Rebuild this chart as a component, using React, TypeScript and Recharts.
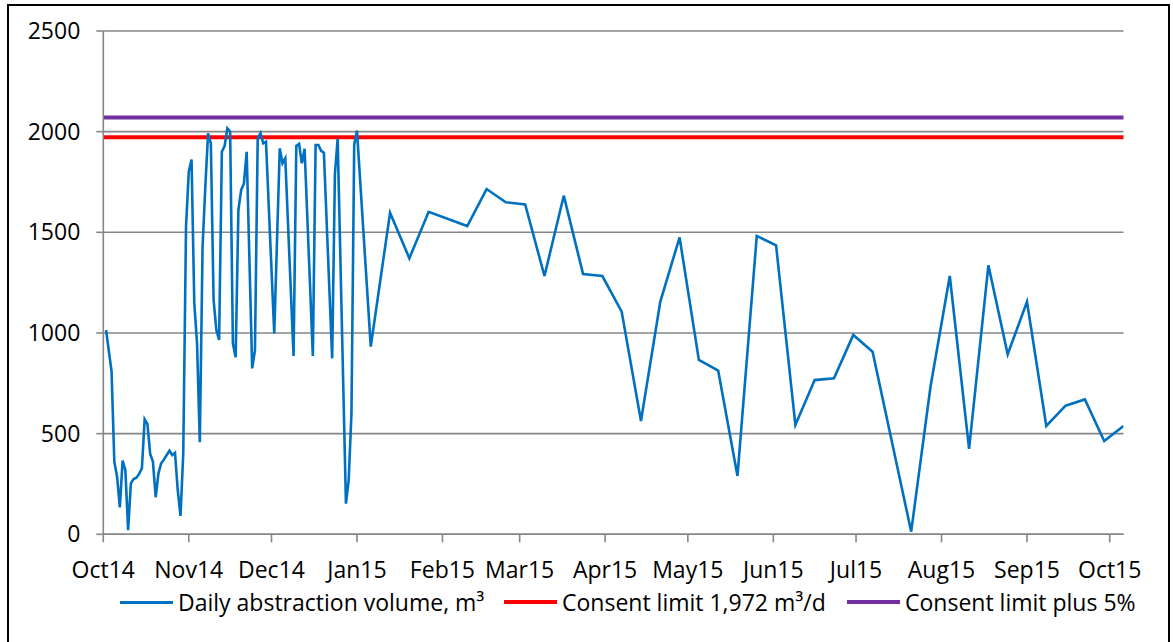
import React from "react";
import { LineChart, Line, XAxis, YAxis, CartesianGrid, ReferenceLine } from "recharts";

// daily abstraction readings (m³) — daily until new year, then weekly
const sampleDates = [
  "2014-10-02", "2014-10-04", "2014-10-05", "2014-10-06", "2014-10-07", "2014-10-08",
  "2014-10-09", "2014-10-10", "2014-10-11", "2014-10-12", "2014-10-13", "2014-10-14",
  "2014-10-15", "2014-10-16", "2014-10-17", "2014-10-18", "2014-10-19", "2014-10-20",
  "2014-10-21", "2014-10-22", "2014-10-23", "2014-10-24", "2014-10-25", "2014-10-26",
  "2014-10-27", "2014-10-28", "2014-10-29", "2014-10-30", "2014-10-31", "2014-11-01",
  "2014-11-02", "2014-11-03", "2014-11-04", "2014-11-05", "2014-11-06", "2014-11-07",
  "2014-11-08", "2014-11-09", "2014-11-10", "2014-11-11", "2014-11-12", "2014-11-13",
  "2014-11-14", "2014-11-15", "2014-11-16", "2014-11-17", "2014-11-18", "2014-11-19",
  "2014-11-20", "2014-11-21", "2014-11-22", "2014-11-24", "2014-11-25", "2014-11-26",
  "2014-11-27", "2014-11-28", "2014-11-29", "2014-12-02", "2014-12-04", "2014-12-05",
  "2014-12-06", "2014-12-09", "2014-12-10", "2014-12-11", "2014-12-12", "2014-12-13",
  "2014-12-16", "2014-12-17", "2014-12-18", "2014-12-19", "2014-12-20", "2014-12-23",
  "2014-12-24", "2014-12-25", "2014-12-28", "2014-12-29", "2014-12-30", "2014-12-31",
  "2015-01-01", "2015-01-06", "2015-01-13", "2015-01-20", "2015-01-27", "2015-02-10",
  "2015-02-17", "2015-02-24", "2015-03-03", "2015-03-10", "2015-03-17", "2015-03-24",
  "2015-03-31", "2015-04-07", "2015-04-14", "2015-04-21", "2015-04-28", "2015-05-05",
  "2015-05-12", "2015-05-19", "2015-05-26", "2015-06-02", "2015-06-09", "2015-06-16",
  "2015-06-23", "2015-06-30", "2015-07-07", "2015-07-21", "2015-07-28", "2015-08-04",
  "2015-08-11", "2015-08-18", "2015-08-25", "2015-09-01", "2015-09-08", "2015-09-15",
  "2015-09-22", "2015-09-29", "2015-10-06",
];

const dailyVolume = [
  1015, 808, 361, 286, 134, 366,
  319, 21, 253, 275, 281, 300,
  328, 571, 548, 399, 361, 184,
  303, 353, 372, 394, 415, 394,
  405, 220, 91, 402, 1528, 1801,
  1862, 1147, 949, 457, 1428, 1726,
  1992, 1942, 1164, 1015, 965, 1900,
  1929, 2017, 2000, 949, 879, 1611,
  1710, 1743, 1900, 824, 915, 1967,
  1992, 1942, 1950, 998, 1917, 1843,
  1867, 886, 1929, 1939, 1843, 1915,
  886, 1934, 1934, 1905, 1895, 874,
  1790, 1965, 152, 270, 600, 1935,
  2005, 932, 1597, 1371, 1602, 1531,
  1715, 1649, 1639, 1283, 1682, 1293,
  1283, 1106, 563, 1155, 1475, 866,
  813, 290, 1482, 1435, 543, 766,
  775, 990, 907, 13, 733, 1283,
  424, 1336, 894, 1155, 538, 639,
  670, 463, 538,
];

const monthTicks = [
  "2014-10-01", "2014-11-01", "2014-12-01", "2015-01-01", "2015-02-01", "2015-03-01", "2015-04-01",
  "2015-05-01", "2015-06-01", "2015-07-01", "2015-08-01", "2015-09-01", "2015-10-01",
];
const monthLabels = [
  "Oct14", "Nov14", "Dec14", "Jan15", "Feb15", "Mar15", "Apr15",
  "May15", "Jun15", "Jul15", "Aug15", "Sep15", "Oct15",
];
const yTicks = [0, 500, 1000, 1500, 2000, 2500];

const CONSENT_LIMIT = 1972;
const CONSENT_PLUS_5 = CONSENT_LIMIT * 1.05;

const seriesNames = ["Daily abstraction volume, m³", "Consent limit 1,972 m³/d", "Consent limit plus 5%"];
const seriesColors = ["#0070C0", "#FF0000", "#7030A0"];

const toTime = (d: string) => Date.parse(d);

const data = sampleDates.map((d, i) => ({ t: toTime(d), v: dailyVolume[i] }));
const tickTimes = monthTicks.map(toTime);
const labelByTime: Record<number, string> = {};
tickTimes.forEach((t, i) => (labelByTime[t] = monthLabels[i]));

const FONT = "'Open Sans', Lato, sans-serif";
const FONT_SIZE = 23;
const GRID = "#868686";

// legend item left edges, as in the original sheet
const legendLeft = [120, 504, 847];

export default function App() {
  return (
    <div
      style={{
        position: "absolute",
        left: 0,
        top: 0,
        width: 1173,
        height: 642,
        overflow: "hidden",
        background: "#fff",
        fontFamily: FONT,
      }}
    >
      <div
        style={{
          position: "absolute",
          left: 7,
          top: 4,
          width: 1159,
          height: 700,
          border: "2px solid #000",
        }}
      />
      <div style={{ position: "absolute", left: 0, top: 0 }}>
        <LineChart width={1173} height={642} data={data} margin={{ top: 31, right: 49.5, bottom: 67.7, left: 0 }}>
          <CartesianGrid vertical={false} stroke={GRID} strokeWidth={1.6} />
          <XAxis
            dataKey="t"
            type="number"
            scale="linear"
            domain={[toTime("2014-10-01"), toTime("2015-10-06")]}
            ticks={tickTimes}
            tickFormatter={(t: number) => labelByTime[t] ?? ""}
            interval={0}
            height={40}
            stroke={GRID}
            strokeWidth={1.6}
            tickSize={8}
            tickMargin={19}
            tick={{ fill: "#000", fontSize: FONT_SIZE, fontFamily: FONT }}
            allowDataOverflow
          />
          <YAxis
            domain={[0, 2500]}
            ticks={yTicks}
            width={103.3}
            stroke={GRID}
            strokeWidth={1.6}
            tickSize={7}
            tickMargin={16}
            tick={{ fill: "#000", fontSize: FONT_SIZE, fontFamily: FONT }}
            interval={0}
          />
          <ReferenceLine y={CONSENT_PLUS_5} stroke={seriesColors[2]} strokeWidth={4} />
          <ReferenceLine y={CONSENT_LIMIT} stroke={seriesColors[1]} strokeWidth={4} />
          <Line
            type="linear"
            dataKey="v"
            stroke={seriesColors[0]}
            strokeWidth={2.6}
            dot={false}
            isAnimationActive={false}
          />
        </LineChart>
      </div>
      {seriesNames.map((name, i) => (
        <div
          key={name}
          style={{
            position: "absolute",
            left: legendLeft[i],
            top: 587,
            height: 30,
            display: "flex",
            alignItems: "center",
            whiteSpace: "nowrap",
            fontSize: FONT_SIZE,
            color: "#000",
          }}
        >
          <span
            style={{
              display: "inline-block",
              width: 53,
              height: i === 0 ? 3 : 4,
              background: seriesColors[i],
              marginRight: 5,
            }}
          />
          <span>{name}</span>
        </div>
      ))}
    </div>
  );
}
